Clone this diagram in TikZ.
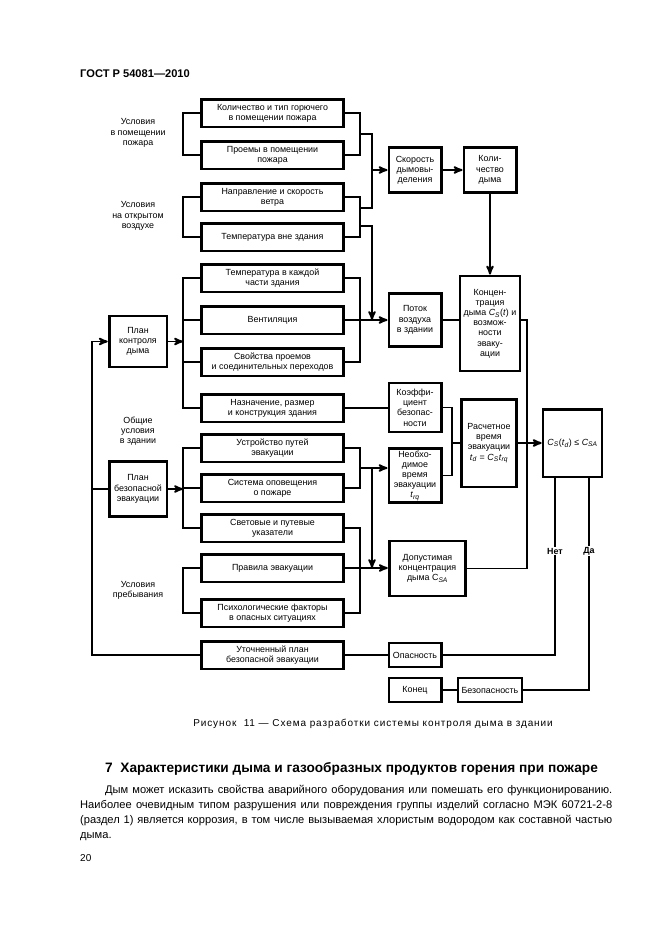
\documentclass[tikz,border=0pt]{standalone}
\usepackage{fontspec}
\setmainfont{Liberation Sans}
\usetikzlibrary{arrows,calc,positioning}
\newcommand\ivar[2]{\textit{#1}\textsubscript{\textit{#2}}}

\begin{document}
\begin{tikzpicture}[x=0.9pt,y=-0.9pt,>=stealth',
	every node/.style={font=\fontsize{8}{9.2}\selectfont},
	col/.style={draw,line width=2.5pt,minimum width=128pt,minimum height=25pt,inner sep=1pt,align=center},
	blk/.style={draw,line width=2.5pt,inner sep=1pt,align=center},
	lbl/.style={align=center,inner sep=1pt},
	wire/.style={line width=1.7pt}]
	\useasboundingbox (0,0) rectangle (661,936);

	% page texts
	\node[anchor=base west,inner sep=0pt,font=\bfseries\fontsize{10}{12}\selectfont] (gost) at (80,77) {ГОСТ Р 54081—2010};
	\node[inner sep=0pt,font=\fontsize{9}{11}\selectfont\addfontfeature{LetterSpace=9}] (fig) at (373,724) {Рисунок\ \ 11 — Схема разработки системы контроля дыма в здании};
	\node[anchor=base west,inner sep=0pt,font=\bfseries\fontsize{12.3}{14}\selectfont] (sect) at (105,772) {7\ \ Характеристики дыма и газообразных продуктов горения при пожаре};
	\node[anchor=north west,inner sep=0pt,text width=478.8pt,align=justify,font=\fontsize{10}{13.5}\selectfont] (para) at (80,785)
	{\hspace*{22.5pt}Дым может исказить свойства аварийного оборудования или помешать его функционированию.\linebreak
	Наиболее очевидным типом разрушения или повреждения группы изделий согласно МЭК 60721-2-8\linebreak
	(раздел 1) является коррозия, в том числе вызываемая хлористым водородом как составной частью\linebreak
	дыма.};
	\node[anchor=base west,inner sep=0pt,font=\fontsize{9}{11}\selectfont] (page) at (80,861) {20};

	% column of conditions
	\node[col] (fuel)     at (272.5,113) {Количество и тип горючего\\в помещении пожара};
	\node[col] (openings) at (272.5,155) {Проемы в помещении\\пожара};
	\node[col] (wind)     at (272.5,197) {Направление и скорость\\ветра};
	\node[col] (tout)     at (272.5,237) {Температура вне здания};
	\node[col] (tin)      at (272.5,278) {Температура в каждой\\части здания};
	\node[col] (vent)     at (272.5,320) {Вентиляция};
	\node[col] (props)    at (272.5,362) {Свойства проемов\\и соединительных переходов};
	\node[col] (purpose)  at (272.5,408) {Назначение, размер\\и конструкция здания};
	\node[col] (routes)   at (272.5,448) {Устройство путей\\эвакуации};
	\node[col] (alarm)    at (272.5,488) {Система оповещения\\о пожаре};
	\node[col] (signs)    at (272.5,528) {Световые и путевые\\указатели};
	\node[col] (rules)    at (272.5,568) {Правила эвакуации};
	\node[col] (psych)    at (272.5,613) {Психологические факторы\\в опасных ситуациях};
	\node[col] (refined)  at (272.5,655) {Уточненный план\\безопасной эвакуации};

	% group labels
	\node[lbl] (gfire)  at (138,133) {Условия\\в помещении\\пожара};
	\node[lbl] (gout)   at (138,216) {Условия\\на открытом\\воздухе};
	\node[lbl] (gbuild) at (138,431) {Общие\\условия\\в здании};
	\node[lbl] (gstay)  at (138,590) {Условия\\пребывания};

	% plans
	\node[blk,minimum width=52pt,minimum height=46pt] (ctrlplan) at (138,341.5) {План\\контроля\\дыма};
	\node[blk,minimum width=52pt,minimum height=50pt] (evacplan) at (138,489) {План\\безопасной\\эвакуации};

	% right part
	\node[blk,minimum width=47pt,minimum height=40pt] (rate)     at (415,170) {Скорость\\дымовы-\\деления};
	\node[blk,minimum width=47pt,minimum height=40pt] (qty)      at (490,170) {Коли-\\чество\\дыма};
	\node[blk,minimum width=47pt,minimum height=48pt] (airflow)  at (415,320) {Поток\\воздуха\\в здании};
	\node[blk,minimum width=54pt,minimum height=85.5pt] (conc)   at (490,323.5) {Концен-\\трация\\дыма \ivar{C}{S}(\textit{t}) и\\возмож-\\ности\\эваку-\\ации};
	\node[blk,minimum width=47pt,minimum height=44pt] (safety)   at (415,407.5) {Коэффи-\\циент\\безопас-\\ности};
	\node[blk,minimum width=47pt,minimum height=48pt] (required) at (415,475.5) {Необхо-\\димое\\время\\эвакуации\\\ivar{t}{rq}};
	\node[blk,minimum width=50pt,minimum height=79pt] (calc)     at (489,443) {Расчетное\\время\\эвакуации\\\ivar{t}{d} = \ivar{C}{S}\ivar{t}{rq}};
	\node[blk,minimum width=53pt,minimum height=61pt] (check)    at (572.5,443) {\ivar{C}{S}(\ivar{t}{d}) ≤ \ivar{C}{SA}};
	\node[blk,minimum width=69pt,minimum height=49.5pt] (allowed) at (427.5,568.5) {Допустимая\\концентрация\\дыма C\textsubscript{\textit{SA}}};
	\node[blk,minimum width=47pt,minimum height=21.6pt] (danger) at (415,655) {Опасность};
	\node[blk,minimum width=47pt,minimum height=21.6pt] (theend) at (415,690) {Конец};
	\node[blk,minimum width=57.6pt,minimum height=21.6pt] (safe) at (490,690) {Безопасность};
	\node[lbl,font=\bfseries\fontsize{8}{9.2}\selectfont] (no)  at (555,551) {Нет};
	\node[lbl,font=\bfseries\fontsize{8}{9.2}\selectfont] (yes) at (589,551) {Да};

	% spines
	\coordinate (ox) at (92,0);
	\coordinate (lx) at (183,0);
	\coordinate (rx) at (360,0);
	\coordinate (bx) at (372,0);
	\coordinate (kx) at (452,0);
	\coordinate (cx) at (527,0);

	% left brackets
	\draw[wire] (fuel.west) -- (fuel.west -| lx) |- (openings.west);
	\draw[wire] (wind.west) -- (wind.west -| lx) |- (tout.west);
	\draw[wire] (tin.west) -- (tin.west -| lx) |- (purpose.west);
	\draw[wire] (vent.west) -- (vent.west -| lx);
	\draw[wire] (props.west) -- (props.west -| lx);
	\draw[wire] (routes.west) -- (routes.west -| lx) |- (signs.west);
	\draw[wire] (alarm.west) -- (alarm.west -| lx);
	\draw[wire] (rules.west) -- (rules.west -| lx) |- (psych.west);
	\draw[wire,->] (ctrlplan.east) -- (ctrlplan.east -| lx);
	\draw[wire,->] (evacplan.east) -- (evacplan.east -| lx);
	\draw[wire,->] (refined.west) -- (refined.west -| ox) |- (ctrlplan.west);
	\draw[wire] (evacplan.west) -- (evacplan.west -| ox);

	% right brackets
	\draw[wire] (fuel.east) -- (fuel.east -| rx) |- (openings.east);
	\draw[wire] (wind.east) -- (wind.east -| rx) |- (tout.east);
	\coordinate (ja) at ($(fuel.east -| rx)!.5!(openings.east -| rx)$);
	\coordinate (jb) at ($(wind.east -| rx)+(0,11)$);
	\coordinate (jc) at ($(wind.east -| rx)+(0,29)$);
	\draw[wire] (ja) -| (bx |- jb) -- (jb);
	\draw[wire,->] (rate.west -| bx) -- (rate.west);
	\draw[wire,->] (jc) -| (bx |- vent.east);
	\draw[wire] (tin.east) -- (tin.east -| rx) |- (props.east);
	\draw[wire,->] (vent.east) -- (airflow.west);
	\draw[wire] (purpose.east) -- (purpose.east -| safety.west);
	\draw[wire] (routes.east) -- (routes.east -| rx) |- (alarm.east);
	\coordinate (jd) at ($(routes.east -| rx)!.5!(alarm.east -| rx)$);
	\draw[wire,->] (jd) -- (jd -| required.west);
	\draw[wire,->] (jd -| bx) -- (bx |- rules.east);
	\draw[wire] (signs.east) -- (signs.east -| rx) |- (psych.east);
	\draw[wire,->] (rules.east) -- (rules.east -| allowed.west);

	% results
	\draw[wire,->] (rate.east) -- (qty.west);
	\draw[wire,->] (qty.south) -- (conc.north);
	\draw[wire] (airflow.east) -- (airflow.east -| conc.west);
	\draw[wire] (airflow.east -| conc.east) -| (cx |- allowed.east) -- (allowed.east);
	\draw[wire] (safety.east) -- (safety.east -| kx) |- (required.east);
	\draw[wire] (calc.west -| kx) -- (calc.west);
	\draw[wire,->] (calc.east) -- (check.west);
	\draw[wire] (check.south -| no) -- (no);
	\draw[wire] (no) |- (danger.east);
	\draw[wire] (check.south -| yes) -- (yes);
	\draw[wire] (yes) |- (safe.east);
	\draw[wire] (danger.west) -- (refined.east);
	\draw[wire] (theend.east) -- (safe.west);
\end{tikzpicture}
\end{document}
